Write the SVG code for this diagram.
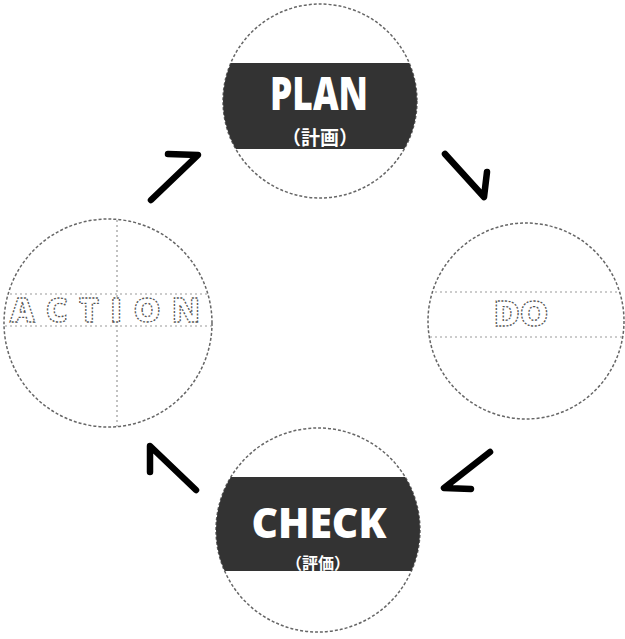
<svg xmlns="http://www.w3.org/2000/svg" width="625" height="639" viewBox="0 0 625 639">
<style>
.ring{fill:#fff;stroke:#666;stroke-width:1.5;stroke-dasharray:3 2}
.band{fill:#333}
.big{font-family:"Open Sans","Liberation Sans",sans-serif;font-weight:800;fill:#fff;text-anchor:middle}
.sub{font-family:"Noto Sans CJK JP",sans-serif;font-weight:700;fill:#fff;text-anchor:middle}
.faint{font-family:"Open Sans","Liberation Sans",sans-serif;font-weight:800;fill:#fff;stroke:#555;stroke-width:1.3;stroke-dasharray:2 1.5;text-anchor:middle}
.rule{stroke:#999;stroke-width:1.2;stroke-dasharray:2 3;fill:none}
.arrow{fill:none;stroke:#000;stroke-width:6.5;stroke-linecap:round;stroke-linejoin:round}
</style>
<defs>
<clipPath id="cPlan"><circle cx="320" cy="101" r="97"/></clipPath>
<clipPath id="cCheck"><circle cx="318" cy="530" r="102"/></clipPath>
<clipPath id="cDo"><circle cx="526" cy="321" r="98"/></clipPath>
<clipPath id="cAct"><circle cx="108" cy="323" r="104"/></clipPath>
</defs>
<rect width="625" height="639" fill="#fff"/>
<g id="plan">
<circle class="ring" cx="320" cy="101" r="97"/>
<rect class="band" x="215" y="63" width="210" height="86" clip-path="url(#cPlan)"/>
<text class="big" x="319" y="110" font-size="46" textLength="98" lengthAdjust="spacingAndGlyphs">PLAN</text>
<text class="sub" x="320" y="145" font-size="19">（計画）</text>
</g>
<g id="do">
<circle class="ring" cx="526" cy="321" r="98"/>
<g clip-path="url(#cDo)">
<line class="rule" x1="425" y1="292" x2="625" y2="292"/>
<line class="rule" x1="425" y1="337" x2="625" y2="337"/>
</g>
<text class="faint" x="521" y="326" font-size="36">DO</text>
</g>
<g id="check">
<circle class="ring" cx="318" cy="530" r="102"/>
<rect class="band" x="210" y="477" width="215" height="94" clip-path="url(#cCheck)"/>
<text class="big" x="319" y="538" font-size="42" textLength="135" lengthAdjust="spacingAndGlyphs">CHECK</text>
<text class="sub" x="318" y="569" font-size="16">（評価）</text>
</g>
<g id="action">
<circle class="ring" cx="108" cy="323" r="104"/>
<g clip-path="url(#cAct)">
<line class="rule" x1="0" y1="294" x2="215" y2="294"/>
<line class="rule" x1="0" y1="326" x2="215" y2="326"/>
<line class="rule" x1="117" y1="220" x2="117" y2="430"/>
</g>
<text class="faint" x="105" y="322" font-size="34" textLength="190" lengthAdjust="spacing">ACTION</text>
</g>
<g id="connectors">
<path class="arrow" d="M168 154 L198 155 L151 200"/>
<path class="arrow" d="M445 154 L484 197 L487 172"/>
<path class="arrow" d="M490 452 L444 488 L471 489"/>
<path class="arrow" d="M150 472 L150 446 L196 490"/>
</g>
</svg>
